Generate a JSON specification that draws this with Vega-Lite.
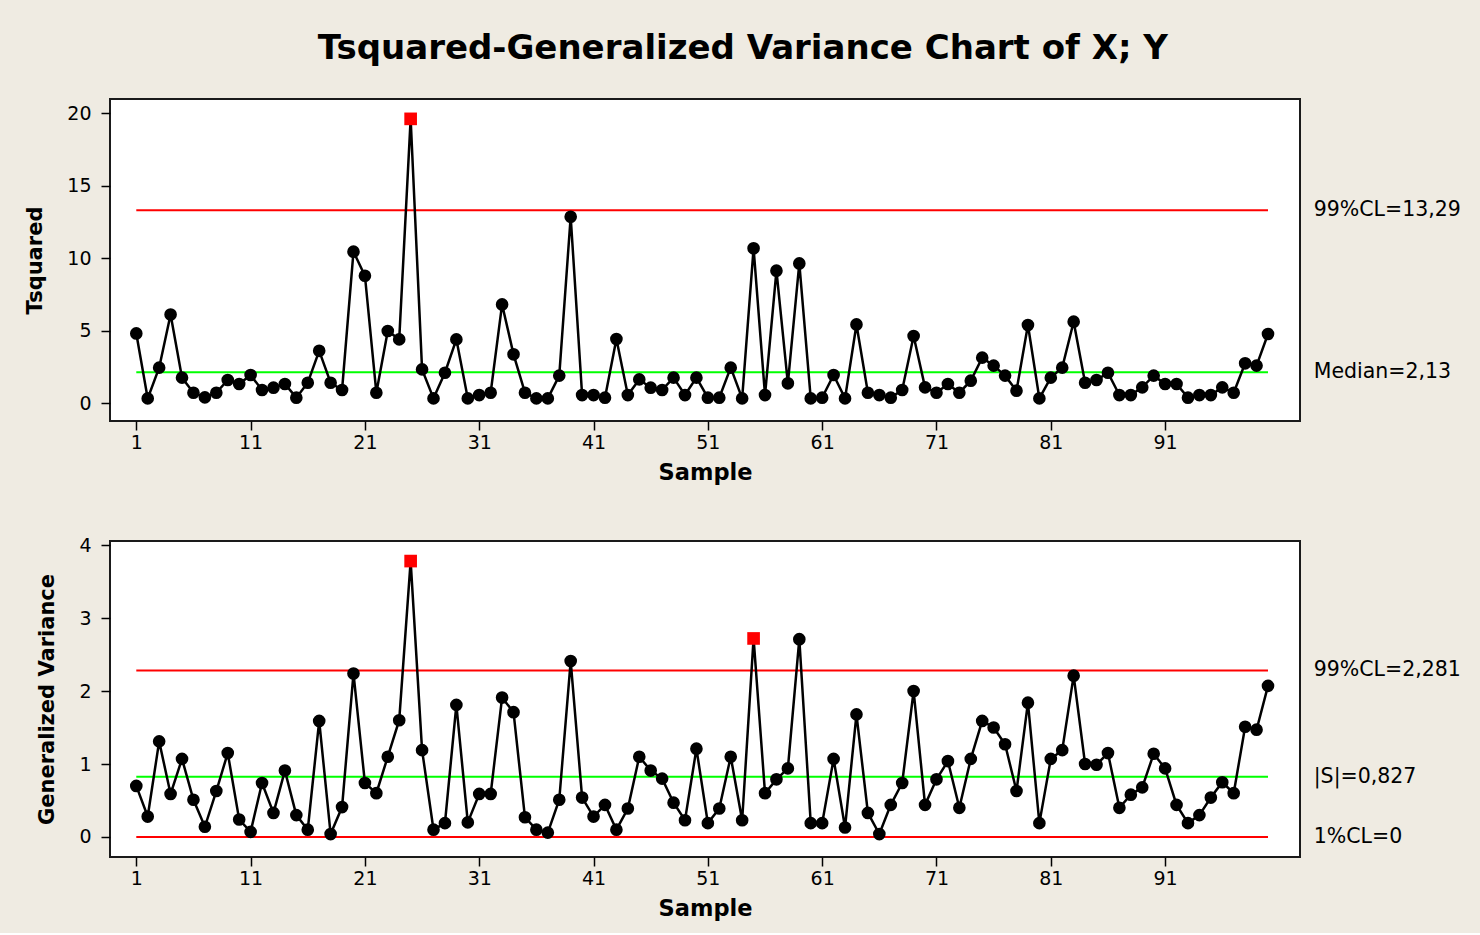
{
"$schema": "https://vega.github.io/schema/vega-lite/v6.json",
"autosize": {"type": "pad"},
"padding": {"left": 23, "top": 32, "right": 20, "bottom": 12},
"background": "#efebe2",
"spacing": 50,
"title": {"text": "Tsquared-Generalized Variance Chart of X; Y", "font": "DejaVu Sans", "fontSize": 34, "fontWeight": "bold", "color": "#000000", "anchor": "middle", "offset": 32},
"datasets": {
"s": [
{"sample":1,"tsq":4.8,"gv":0.70},{"sample":2,"tsq":0.32,"gv":0.28},{"sample":3,"tsq":2.44,"gv":1.31},{"sample":4,"tsq":6.1,"gv":0.59},{"sample":5,"tsq":1.75,"gv":1.07},
{"sample":6,"tsq":0.71,"gv":0.51},{"sample":7,"tsq":0.39,"gv":0.14},{"sample":8,"tsq":0.71,"gv":0.63},{"sample":9,"tsq":1.59,"gv":1.15},{"sample":10,"tsq":1.31,"gv":0.24},
{"sample":11,"tsq":1.93,"gv":0.07},{"sample":12,"tsq":0.9,"gv":0.74},{"sample":13,"tsq":1.06,"gv":0.33},{"sample":14,"tsq":1.31,"gv":0.91},{"sample":15,"tsq":0.37,"gv":0.30},
{"sample":16,"tsq":1.4,"gv":0.10},{"sample":17,"tsq":3.6,"gv":1.59},{"sample":18,"tsq":1.4,"gv":0.04},{"sample":19,"tsq":0.9,"gv":0.41},{"sample":20,"tsq":10.44,"gv":2.24},
{"sample":21,"tsq":8.78,"gv":0.74},{"sample":22,"tsq":0.71,"gv":0.60},{"sample":23,"tsq":4.97,"gv":1.10},{"sample":24,"tsq":4.39,"gv":1.60},{"sample":25,"tsq":19.6,"gv":3.78,"outT":true,"outG":true},
{"sample":26,"tsq":2.32,"gv":1.19},{"sample":27,"tsq":0.32,"gv":0.10},{"sample":28,"tsq":2.09,"gv":0.19},{"sample":29,"tsq":4.39,"gv":1.81},{"sample":30,"tsq":0.32,"gv":0.20},
{"sample":31,"tsq":0.55,"gv":0.59},{"sample":32,"tsq":0.71,"gv":0.59},{"sample":33,"tsq":6.8,"gv":1.91},{"sample":34,"tsq":3.36,"gv":1.71},{"sample":35,"tsq":0.71,"gv":0.27},
{"sample":36,"tsq":0.32,"gv":0.10},{"sample":37,"tsq":0.32,"gv":0.06},{"sample":38,"tsq":1.89,"gv":0.51},{"sample":39,"tsq":12.85,"gv":2.41},{"sample":40,"tsq":0.55,"gv":0.54},
{"sample":41,"tsq":0.55,"gv":0.28},{"sample":42,"tsq":0.37,"gv":0.44},{"sample":43,"tsq":4.41,"gv":0.10},{"sample":44,"tsq":0.55,"gv":0.39},{"sample":45,"tsq":1.63,"gv":1.10},
{"sample":46,"tsq":1.06,"gv":0.91},{"sample":47,"tsq":0.9,"gv":0.80},{"sample":48,"tsq":1.75,"gv":0.47},{"sample":49,"tsq":0.55,"gv":0.23},{"sample":50,"tsq":1.75,"gv":1.21},
{"sample":51,"tsq":0.37,"gv":0.19},{"sample":52,"tsq":0.37,"gv":0.39},{"sample":53,"tsq":2.44,"gv":1.10},{"sample":54,"tsq":0.32,"gv":0.23},{"sample":55,"tsq":10.67,"gv":2.72,"outG":true},
{"sample":56,"tsq":0.55,"gv":0.60},{"sample":57,"tsq":9.13,"gv":0.79},{"sample":58,"tsq":1.36,"gv":0.94},{"sample":59,"tsq":9.63,"gv":2.71},{"sample":60,"tsq":0.32,"gv":0.19},
{"sample":61,"tsq":0.37,"gv":0.19},{"sample":62,"tsq":1.93,"gv":1.07},{"sample":63,"tsq":0.32,"gv":0.13},{"sample":64,"tsq":5.42,"gv":1.68},{"sample":65,"tsq":0.71,"gv":0.33},
{"sample":66,"tsq":0.55,"gv":0.04},{"sample":67,"tsq":0.37,"gv":0.44},{"sample":68,"tsq":0.9,"gv":0.74},{"sample":69,"tsq":4.62,"gv":2.00},{"sample":70,"tsq":1.08,"gv":0.44},
{"sample":71,"tsq":0.71,"gv":0.79},{"sample":72,"tsq":1.31,"gv":1.04},{"sample":73,"tsq":0.71,"gv":0.40},{"sample":74,"tsq":1.54,"gv":1.07},{"sample":75,"tsq":3.13,"gv":1.59},
{"sample":76,"tsq":2.58,"gv":1.50},{"sample":77,"tsq":1.89,"gv":1.27},{"sample":78,"tsq":0.85,"gv":0.63},{"sample":79,"tsq":5.38,"gv":1.84},{"sample":80,"tsq":0.32,"gv":0.19},
{"sample":81,"tsq":1.75,"gv":1.07},{"sample":82,"tsq":2.44,"gv":1.19},{"sample":83,"tsq":5.61,"gv":2.21},{"sample":84,"tsq":1.4,"gv":1.00},{"sample":85,"tsq":1.59,"gv":0.99},
{"sample":86,"tsq":2.09,"gv":1.15},{"sample":87,"tsq":0.55,"gv":0.40},{"sample":88,"tsq":0.55,"gv":0.58},{"sample":89,"tsq":1.08,"gv":0.68},{"sample":90,"tsq":1.89,"gv":1.14},
{"sample":91,"tsq":1.31,"gv":0.94},{"sample":92,"tsq":1.31,"gv":0.44},{"sample":93,"tsq":0.37,"gv":0.19},{"sample":94,"tsq":0.55,"gv":0.30},{"sample":95,"tsq":0.55,"gv":0.54},
{"sample":96,"tsq":1.08,"gv":0.75},{"sample":97,"tsq":0.71,"gv":0.60},{"sample":98,"tsq":2.74,"gv":1.51},{"sample":99,"tsq":2.58,"gv":1.47},{"sample":100,"tsq":4.76,"gv":2.07}
],
"limTop": [
{"label":"99%CL=13,29","value":13.29,"kind":"limit"},
{"label":"Median=2,13","value":2.13,"kind":"center"}
],
"limBot": [
{"label":"99%CL=2,281","value":2.281,"kind":"limit"},
{"label":"|S|=0,827","value":0.827,"kind":"center"},
{"label":"1%CL=0","value":0,"kind":"limit"}
]
},
"vconcat": [
{
"width": 1190, "height": 322,
"data": {"name": "s"},
"layer": [
{"data": {"name": "limTop"}, "mark": {"type": "rule", "strokeWidth": 2},
 "encoding": {
  "x": {"datum": 1, "type": "quantitative", "scale": {"domain": [-1.3, 102.8], "nice": false, "zero": false}},
  "x2": {"datum": 100},
  "y": {"field": "value", "type": "quantitative", "scale": {"domain": [-1.24, 20.97], "nice": false, "zero": false}},
  "color": {"field": "kind", "type": "nominal", "scale": {"domain": ["limit", "center"], "range": ["#ff0000", "#00ff00"]}, "legend": null}}},
{"data": {"name": "limTop"}, "mark": {"type": "text", "align": "left", "baseline": "middle", "fontSize": 20.5, "color": "#000000"},
 "encoding": {
  "x": {"datum": 104, "type": "quantitative"},
  "y": {"field": "value", "type": "quantitative"},
  "text": {"field": "label", "type": "nominal"}}},
{"mark": {"type": "line", "color": "#000000", "strokeWidth": 2.5},
 "encoding": {
  "x": {"field": "sample", "type": "quantitative", "axis": {"values": [1,11,21,31,41,51,61,71,81,91], "title": "Sample"}},
  "y": {"field": "tsq", "type": "quantitative", "axis": {"values": [0,5,10,15,20], "format": "d", "title": "Tsquared"}}}},
{"transform": [{"filter": "!datum.outT"}], "mark": {"type": "point", "shape": "circle", "filled": true, "color": "#000000", "opacity": 1, "size": 160},
 "encoding": {"x": {"field": "sample", "type": "quantitative"}, "y": {"field": "tsq", "type": "quantitative"}}},
{"transform": [{"filter": "datum.outT"}], "mark": {"type": "square", "color": "#ff0000", "opacity": 1, "size": 160},
 "encoding": {"x": {"field": "sample", "type": "quantitative"}, "y": {"field": "tsq", "type": "quantitative"}}}
]
},
{
"width": 1190, "height": 316,
"data": {"name": "s"},
"layer": [
{"data": {"name": "limBot"}, "mark": {"type": "rule", "strokeWidth": 2},
 "encoding": {
  "x": {"datum": 1, "type": "quantitative", "scale": {"domain": [-1.3, 102.8], "nice": false, "zero": false}},
  "x2": {"datum": 100},
  "y": {"field": "value", "type": "quantitative", "scale": {"domain": [-0.274, 4.055], "nice": false, "zero": false}},
  "color": {"field": "kind", "type": "nominal", "scale": {"domain": ["limit", "center"], "range": ["#ff0000", "#00ff00"]}, "legend": null}}},
{"data": {"name": "limBot"}, "mark": {"type": "text", "align": "left", "baseline": "middle", "fontSize": 20.5, "color": "#000000"},
 "encoding": {
  "x": {"datum": 104, "type": "quantitative"},
  "y": {"field": "value", "type": "quantitative"},
  "text": {"field": "label", "type": "nominal"}}},
{"mark": {"type": "line", "color": "#000000", "strokeWidth": 2.5},
 "encoding": {
  "x": {"field": "sample", "type": "quantitative", "axis": {"values": [1,11,21,31,41,51,61,71,81,91], "title": "Sample"}},
  "y": {"field": "gv", "type": "quantitative", "axis": {"values": [0,1,2,3,4], "format": "d", "title": "Generalized Variance"}}}},
{"transform": [{"filter": "!datum.outG"}], "mark": {"type": "point", "shape": "circle", "filled": true, "color": "#000000", "opacity": 1, "size": 160},
 "encoding": {"x": {"field": "sample", "type": "quantitative"}, "y": {"field": "gv", "type": "quantitative"}}},
{"transform": [{"filter": "datum.outG"}], "mark": {"type": "square", "color": "#ff0000", "opacity": 1, "size": 160},
 "encoding": {"x": {"field": "sample", "type": "quantitative"}, "y": {"field": "gv", "type": "quantitative"}}}
]
}
],
"config": {
 "font": "DejaVu Sans",
 "view": {"stroke": "#1a1a1a", "strokeWidth": 2, "fill": "#ffffff"},
 "text": {"font": "DejaVu Sans"},
 "axis": {"domain": false, "grid": false, "ticks": true, "tickColor": "#000000", "tickSize": 9, "tickWidth": 1.5, "labelFont": "DejaVu Sans", "labelFontSize": 19, "labelColor": "#000000", "titleFont": "DejaVu Sans", "titleFontSize": 22.5, "titleFontWeight": "bold", "titleColor": "#000000"},
 "axisX": {"labelPadding": 3, "titlePadding": 9},
 "axisY": {"labelPadding": 10, "titlePadding": 21, "titleFontSize": 21}
}
}
